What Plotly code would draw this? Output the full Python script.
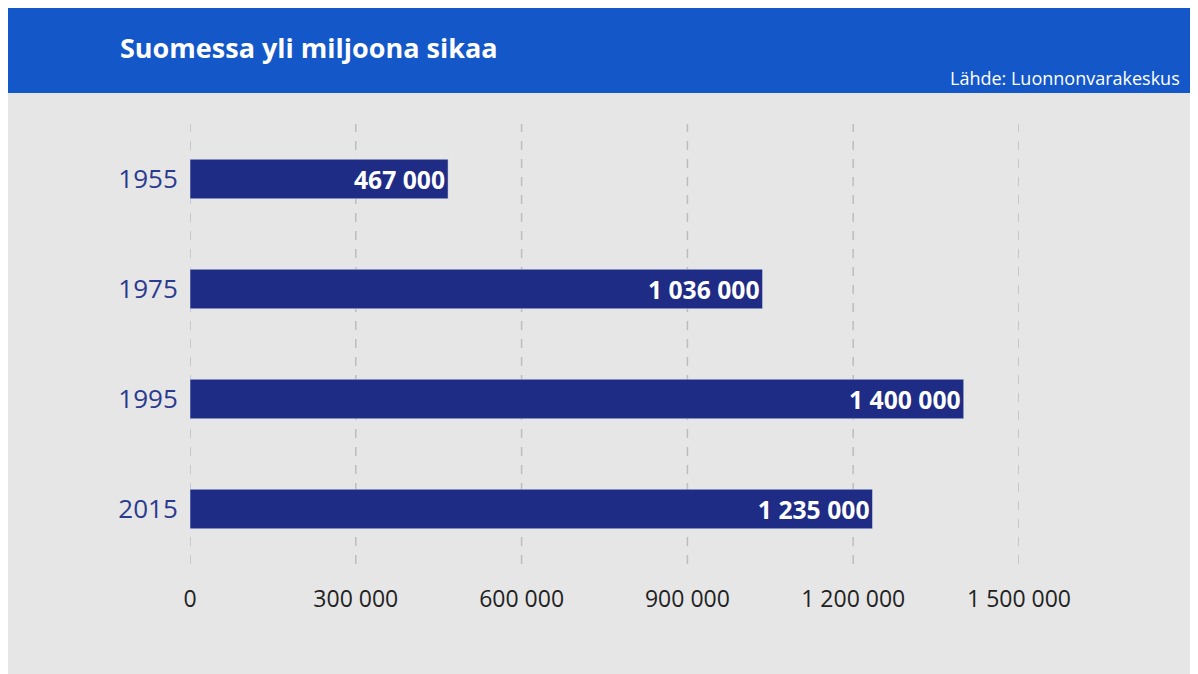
import plotly.graph_objects as go

years = ["1955", "1975", "1995", "2015"]
pigs = [467000, 1036000, 1400000, 1235000]
tick_vals = [0, 300000, 600000, 900000, 1200000, 1500000]


def fmt(v):
    return f"{v:,}".replace(",", " ")


# the page has an 8px body margin, so shift everything up/left
W, H = 1190, 666
L, R, T, B = 182, 179, 116, 110
ph = H - T - B
pw = W - L - R

fig = go.Figure(go.Bar(
    x=pigs, y=years, orientation="h",
    marker_color="#1F2C85",
    text=[fmt(v) for v in pigs],
    textposition="inside", insidetextanchor="end",
    textfont=dict(color="white", size=25, family="Open Sans"),
    texttemplate="<b>%{text}</b>",
    hoverinfo="skip",
))

fig.update_layout(
    width=W, height=H,
    margin=dict(l=L, r=R, t=T, b=B),
    paper_bgcolor="#E6E6E6", plot_bgcolor="#E6E6E6",
    bargap=0.64, showlegend=False,
    font=dict(family="Open Sans"),
)
fig.update_xaxes(
    range=[0, 1500000], tickvals=tick_vals, ticktext=[fmt(v) for v in tick_vals],
    showgrid=False, zeroline=False,
    tickfont=dict(size=23, color="#222222"), ticks="outside", ticklen=14,
    tickcolor="rgba(0,0,0,0)",
)
fig.update_yaxes(
    categoryorder="array", categoryarray=years, autorange="reversed",
    tickfont=dict(size=26, color="#2B3A8F", family="Open Sans"),
    ticks="outside", ticklen=6, tickcolor="rgba(0,0,0,0)", showgrid=False,
)

for v in tick_vals:
    fig.add_shape(type="line", xref="x", yref="paper", x0=v, x1=v, y0=0, y1=1,
                  line=dict(color="#BDBDBD", width=1.5, dash="dash"), layer="below")

fig.add_shape(type="rect", xref="paper", yref="paper",
              x0=-L / pw - 0.02, x1=(W - L) / pw + 0.02,
              y0=1 + (T - 85) / ph, y1=1 + T / ph + 0.05,
              fillcolor="#1457C8", line_width=0, layer="below")
fig.add_annotation(text="<b>Suomessa yli miljoona sikaa</b>", xref="paper", yref="paper",
                   x=(110 - L) / pw, y=1 + (T - 40) / ph, xanchor="left", yanchor="middle",
                   showarrow=False, font=dict(size=27, color="white", family="Open Sans"))
fig.add_annotation(text="Lähde: Luonnonvarakeskus", xref="paper", yref="paper",
                   x=(1174 - L) / pw, y=1 + (T - 70) / ph, xanchor="right", yanchor="middle",
                   showarrow=False, font=dict(size=18, color="white", family="Open Sans"))

fig.write_html("out.html")
